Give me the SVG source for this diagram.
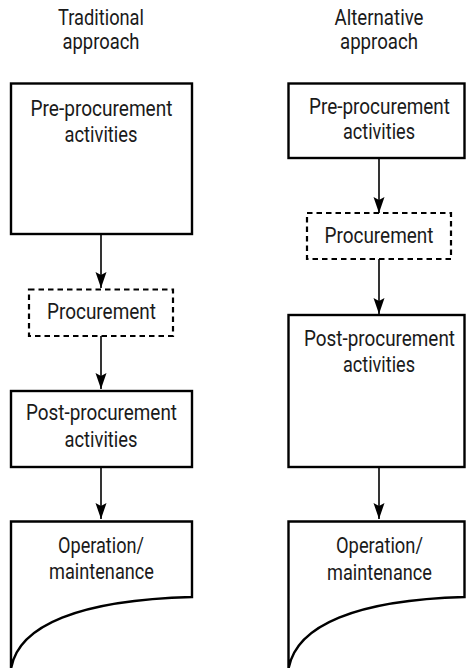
<svg xmlns="http://www.w3.org/2000/svg" width="466" height="668" viewBox="0 0 466 668">
<style>
text{font-family:Roboto,"Liberation Sans",sans-serif;font-size:22px;fill:#1a1a1a;text-anchor:middle}
.box{fill:#fff;stroke:#000;stroke-width:2.4}
.dash{fill:#fff;stroke:#000;stroke-width:2.2;stroke-dasharray:5.5 4}
.conn{stroke:#000;stroke-width:1.6;fill:none;marker-end:url(#ah)}
</style>
<defs>
<marker id="ah" markerUnits="userSpaceOnUse" markerWidth="18" markerHeight="12" viewBox="0 -6 18 12" refX="16" refY="0" orient="auto">
<path d="M0,-5.5 L16,0 L0,5.5 L3,0 z" fill="#000"/>
</marker>
</defs>
<g id="title-left">
<text x="101" y="25" textLength="86" lengthAdjust="spacingAndGlyphs">Traditional</text>
<text x="101" y="49" textLength="77" lengthAdjust="spacingAndGlyphs">approach</text>
</g>
<g id="title-right">
<text x="379" y="25" textLength="89" lengthAdjust="spacingAndGlyphs">Alternative</text>
<text x="379" y="49" textLength="78" lengthAdjust="spacingAndGlyphs">approach</text>
</g>
<g id="connectors">
<line class="conn" x1="101" y1="234" x2="101" y2="288"/>
<line class="conn" x1="101" y1="336" x2="101" y2="389"/>
<line class="conn" x1="101" y1="467" x2="101" y2="519"/>
<line class="conn" x1="379" y1="158" x2="379" y2="213"/>
<line class="conn" x1="379" y1="259" x2="379" y2="314"/>
<line class="conn" x1="379" y1="467" x2="379" y2="519"/>
</g>
<g id="pre-left">
<rect class="box" x="11" y="83.5" width="181" height="150.5"/>
<text x="101.5" y="116" textLength="142" lengthAdjust="spacingAndGlyphs">Pre-procurement</text>
<text x="101" y="141.5" textLength="73" lengthAdjust="spacingAndGlyphs">activities</text>
</g>
<g id="proc-left">
<rect class="dash" x="29" y="289.5" width="144" height="46.5"/>
<text x="101.5" y="318.5" textLength="109" lengthAdjust="spacingAndGlyphs">Procurement</text>
</g>
<g id="post-left">
<rect class="box" x="11" y="391" width="181" height="76"/>
<text x="101.5" y="420" textLength="151" lengthAdjust="spacingAndGlyphs">Post-procurement</text>
<text x="101" y="446.5" textLength="73" lengthAdjust="spacingAndGlyphs">activities</text>
</g>
<g id="op-left">
<path class="box" d="M11,669 L11,521.5 L192,521.5 L192,597 C80,600 18,625 11,669"/>
<text x="101" y="553.3" textLength="86" lengthAdjust="spacingAndGlyphs">Operation/</text>
<text x="101.5" y="579.3" textLength="105" lengthAdjust="spacingAndGlyphs">maintenance</text>
</g>
<g id="pre-right">
<rect class="box" x="288.5" y="83.5" width="176" height="74.5"/>
<text x="379.5" y="113.5" textLength="141" lengthAdjust="spacingAndGlyphs">Pre-procurement</text>
<text x="379" y="139" textLength="72" lengthAdjust="spacingAndGlyphs">activities</text>
</g>
<g id="proc-right">
<rect class="dash" x="307" y="213" width="144" height="46"/>
<text x="379" y="242.5" textLength="109" lengthAdjust="spacingAndGlyphs">Procurement</text>
</g>
<g id="post-right">
<rect class="box" x="288.5" y="315" width="176" height="152"/>
<text x="379.5" y="346" textLength="151" lengthAdjust="spacingAndGlyphs">Post-procurement</text>
<text x="379" y="372.3" textLength="72" lengthAdjust="spacingAndGlyphs">activities</text>
</g>
<g id="op-right">
<path class="box" d="M288.5,669 L288.5,521.5 L464.5,521.5 L464.5,597 C357,600 296,625 288.5,669"/>
<text x="379.5" y="553.3" textLength="87" lengthAdjust="spacingAndGlyphs">Operation/</text>
<text x="379.5" y="580" textLength="105" lengthAdjust="spacingAndGlyphs">maintenance</text>
</g>
</svg>
